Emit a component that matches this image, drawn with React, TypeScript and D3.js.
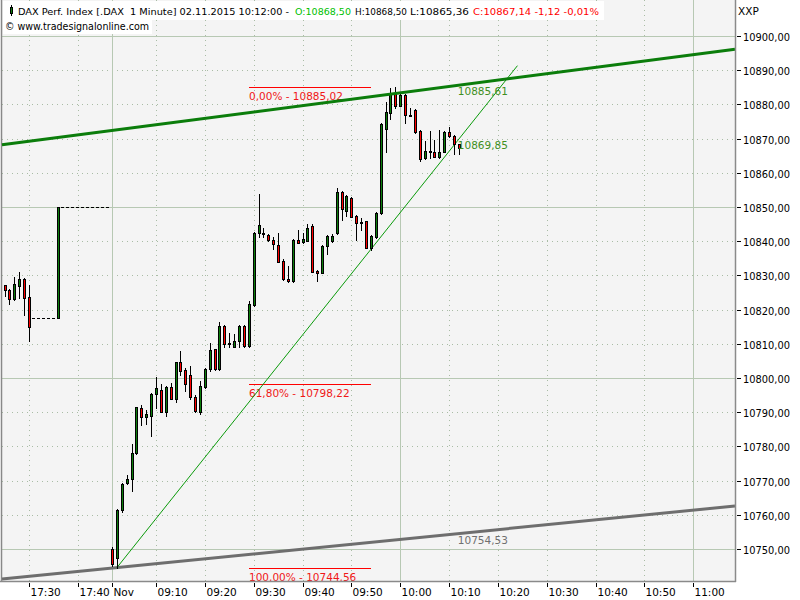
import React from "react";
import * as d3 from "d3";

// ---------- DATA ----------
const prevTimes = ["17:25", "17:26", "17:27", "17:28", "17:29", "17:30", "17:36"];
const prevOpen = [10827.1, 10825.7, 10823.0, 10827.0, 10828.9, 10823.6, 10817.5];
const prevHigh = [10827.3, 10826.0, 10829.4, 10831.0, 10829.2, 10827.2, 10850.1];
const prevLow = [10824.1, 10821.5, 10822.8, 10823.3, 10818.5, 10810.8, 10817.4];
const prevClose = [10825.7, 10823.0, 10827.4, 10828.9, 10823.5, 10814.8, 10850.0];

const dayOpen = [
  10749.9, 10747.3, 10761.5, 10769.4, 10770.4, 10778.0, 10791.3, 10788.7, 10789.0, 10795.2,
  10796.5, 10790.2, 10797.3, 10793.9, 10804.6, 10802.3, 10800.9, 10794.5, 10790.2, 10797.5,
  10802.5, 10808.4, 10802.5, 10815.3, 10809.8, 10809.2, 10810.8, 10815.2, 10809.4, 10821.3,
  10842.3, 10842.1, 10841.8, 10840.4, 10838.9, 10834.3, 10828.9, 10828.3, 10840.4, 10839.8,
  10840.1, 10844.4, 10831.4, 10830.8, 10838.6, 10840.0, 10842.3, 10854.4, 10848.9, 10852.6,
  10847.4, 10845.6, 10845.8, 10838.1, 10841.3, 10848.2, 10872.8, 10877.4, 10883.2, 10879.6,
  10882.7, 10877.0, 10878.4, 10872.2, 10864.4, 10866.4, 10866.2, 10864.7, 10866.2, 10872.0,
  10870.8, 10868.5,
];
const dayHigh = [
  10750.5, 10761.6, 10769.3, 10771.6, 10780.7, 10791.6, 10792.0, 10790.6, 10795.6, 10800.4,
  10798.2, 10797.7, 10798.6, 10804.8, 10807.9, 10802.8, 10803.5, 10795.0, 10799.0, 10803.0,
  10810.1, 10808.6, 10816.5, 10815.5, 10813.1, 10812.9, 10815.6, 10815.5, 10822.6, 10842.7,
  10853.8, 10843.8, 10842.0, 10841.1, 10842.5, 10834.8, 10832.7, 10840.6, 10843.3, 10842.3,
  10845.0, 10845.0, 10831.5, 10838.8, 10841.7, 10842.1, 10855.6, 10854.8, 10853.4, 10853.0,
  10847.7, 10846.7, 10846.0, 10841.7, 10848.6, 10874.5, 10880.6, 10884.8, 10885.02, 10883.0,
  10883.0, 10879.0, 10878.6, 10872.4, 10869.4, 10872.2, 10869.6, 10872.5, 10872.3, 10873.5,
  10871.0, 10868.5,
];
const dayLow = [
  10745.0, 10744.56, 10760.8, 10769.0, 10767.0, 10777.8, 10786.3, 10786.5, 10783.0, 10791.1,
  10790.0, 10788.9, 10793.8, 10793.0, 10800.9, 10796.3, 10794.0, 10790.0, 10789.5, 10797.0,
  10802.0, 10802.3, 10802.3, 10809.2, 10809.2, 10809.0, 10809.2, 10809.0, 10809.0, 10821.0,
  10841.3, 10841.1, 10840.2, 10837.7, 10833.8, 10828.7, 10828.0, 10828.0, 10839.4, 10839.5,
  10840.0, 10831.0, 10828.5, 10830.6, 10836.3, 10839.8, 10842.1, 10846.2, 10847.4, 10847.0,
  10840.4, 10843.3, 10837.9, 10837.4, 10841.0, 10848.0, 10866.2, 10875.6, 10879.0, 10879.4,
  10874.6, 10876.5, 10871.6, 10863.5, 10863.9, 10864.4, 10864.5, 10864.3, 10866.0, 10870.6,
  10865.5, 10865.36,
];
const dayClose = [
  10745.5, 10761.4, 10769.0, 10770.5, 10778.0, 10791.4, 10788.5, 10789.4, 10795.3, 10797.0,
  10790.2, 10797.5, 10794.0, 10804.6, 10802.1, 10798.2, 10794.3, 10790.4, 10797.7, 10802.6,
  10808.2, 10802.5, 10815.2, 10809.9, 10810.1, 10810.8, 10815.3, 10809.4, 10821.6, 10842.5,
  10844.7, 10842.5, 10840.4, 10839.1, 10834.0, 10828.9, 10828.3, 10840.4, 10839.6, 10840.6,
  10843.9, 10831.1, 10830.8, 10838.6, 10841.5, 10841.5, 10854.4, 10849.5, 10853.2, 10847.2,
  10845.4, 10845.5, 10838.1, 10841.5, 10848.2, 10874.2, 10877.7, 10883.2, 10879.5, 10882.7,
  10876.9, 10876.7, 10871.8, 10863.9, 10866.4, 10866.2, 10864.7, 10866.2, 10872.0, 10870.8,
  10868.4, 10867.14,
];

const tickTimes = ["17:30", "17:40", "09:01", "09:10", "09:20", "09:30", "09:40", "09:50", "10:00", "10:10", "10:20", "10:30", "10:40", "10:50", "11:00"];
const tickLabels = ["17:30", "17:40", "Nov", "09:10", "09:20", "09:30", "09:40", "09:50", "10:00", "10:10", "10:20", "10:30", "10:40", "10:50", "11:00"];
const solidTimes = ["09:01", "10:00", "11:00"];
const priceTicks = [10750, 10760, 10770, 10780, 10790, 10800, 10810, 10820, 10830, 10840, 10850, 10860, 10870, 10880, 10890, 10900];

// trend lines: [time, value] anchors
const channelTop = [["17:25", 10868.3], ["10:12", 10885.61]];
const channelBottom = [["17:25", 10741.3], ["10:12", 10754.53]];
const trendLine = [["09:02", 10744.56], ["10:12", 10869.85]];
const trendEnd = "10:24";
const lineLabels = ["10885,61", "10869,85", "10754,53"];

const fibLevels = [10885.02, 10798.22, 10744.56];
const fibLabels = ["0,00% - 10885,02", "61,80% - 10798,22", "100,00% - 10744,56"];
const fibRange = ["09:29", "09:54"];

const headerParts = [
  "DAX Perf. Index [.DAX  1 Minute] 02.11.2015 10:12:00 -",
  "O:10868,50",
  "H:10868,50",
  "L:10865,36",
  "C:10867,14 -1,12 -0,01%",
];

// ---------- HELPERS ----------
const pad = (n: number) => String(n).padStart(2, "0");
const slots: string[] = [];
for (let m = 17 * 60 + 25; m <= 17 * 60 + 46; m++) slots.push(`${pad(Math.floor(m / 60))}:${pad(m % 60)}`);
for (let m = 9 * 60 + 1; m <= 11 * 60 + 15; m++) slots.push(`${pad(Math.floor(m / 60))}:${pad(m % 60)}`);
const idx = (t: string) => slots.indexOf(t);

const PL = 2, PR = 735, PT = 0, PB = 581;
const x = d3.scaleLinear().domain([5, 141]).range([29, 693.3]);
const y = d3.scaleLinear().domain([10750, 10900]).range([549, 36]);

const FONT = "'DejaVu Sans', Verdana, sans-serif";
const GREEN = "#0b7d0b";
const RED = "#ff0000";

type Bar = { i: number; o: number; h: number; l: number; c: number };
const bars: Bar[] = [
  ...prevTimes.map((t, k) => ({ i: idx(t), o: prevOpen[k], h: prevHigh[k], l: prevLow[k], c: prevClose[k] })),
  ...dayOpen.map((o, k) => ({ i: idx("09:01") + k, o, h: dayHigh[k], l: dayLow[k], c: dayClose[k] })),
];

function lineFn(a: (string | number)[][]) {
  const i0 = idx(a[0][0] as string), i1 = idx(a[1][0] as string);
  const v0 = a[0][1] as number, v1 = a[1][1] as number;
  return (i: number) => v0 + ((v1 - v0) * (i - i0)) / (i1 - i0);
}

function Candle({ b }: { b: Bar }) {
  const cx = Math.round(x(b.i));
  const top = Math.round(y(Math.max(b.o, b.c)));
  const bot = Math.max(Math.round(y(Math.min(b.o, b.c))), top + 1);
  const hy = Math.round(y(b.h));
  const ly = Math.round(y(b.l));
  const up = b.c >= b.o;
  return (
    <g>
      <line x1={cx + 0.5} x2={cx + 0.5} y1={hy} y2={ly + 1} stroke="#000" strokeWidth={1} />
      <rect x={cx - 0.5} y={top + 0.5} width={2} height={bot - top} fill={up ? GREEN : RED} stroke="#000" strokeWidth={1} />
    </g>
  );
}

const headerX = [18, 295, 355, 410, 473];
const headerW = [271, 56, 52, 59, 126];
const headerC = ["#000", "#00c000", "#000", "#000", RED];

export default function App() {
  const iL = x.invert(PL), iR = x.invert(PR);
  const top = lineFn(channelTop), bot = lineFn(channelBottom), tr = lineFn(trendLine);
  const i93 = idx("10:12");
  const iT0 = idx(trendLine[0][0] as string), iTE = idx(trendEnd);
  const f0 = Math.round(x(idx(fibRange[0]))), f1 = Math.round(x(idx(fibRange[1])));

  const b5 = bars[5], b11 = bars[6];
  return (
    <svg width={800} height={600} style={{ position: "absolute", left: 0, top: 0, background: "#fff" }} fontFamily={FONT}>
      <rect x={0} y={0} width={800} height={600} fill="#fff" />
      <rect x={PL} y={PT} width={PR - PL} height={PB - PT} fill="#f4f4f4" />
      {priceTicks.map((v) => {
        const yy = Math.round(y(v)) + 0.5;
        const solid = v % 50 === 0;
        return (
          <line key={v} x1={PL} x2={PR} y1={yy} y2={yy} stroke={solid ? "#b7c8b3" : "#a9bca5"} strokeWidth={1} strokeDasharray={solid ? undefined : "1,4"} />
        );
      })}
      {tickTimes.map((t) => {
        const xx = Math.round(x(idx(t))) + 0.5;
        const solid = solidTimes.includes(t);
        return (
          <line key={t} x1={xx} x2={xx} y1={PT} y2={PB} stroke={solid ? "#b7c8b3" : "#a9bca5"} strokeWidth={1} strokeDasharray={solid ? undefined : "1,4"} />
        );
      })}
      <rect x={3} y={1} width={601} height={19} fill="#fff" />
      <rect x={3} y={20} width={149} height={14} fill="#fff" />
      <line x1={PL - 0.5} x2={PL - 0.5} y1={0} y2={PB} stroke="#888" strokeWidth={1.5} />

      {fibLevels.map((v, k) => {
        const yy = Math.round(y(v)) + 0.5;
        return (
          <g key={v}>
            <line x1={f0} x2={f1} y1={yy} y2={yy} stroke={RED} strokeWidth={1} />
            <text x={f0} y={yy + 12} fontSize={10.5} fill="#f01818">{fibLabels[k]}</text>
          </g>
        );
      })}

      <line x1={PL} x2={PR} y1={y(bot(iL))} y2={y(bot(iR))} stroke="#6e6e6e" strokeWidth={3} />
      <line x1={x(iT0)} x2={x(iTE)} y1={y(tr(iT0))} y2={y(tr(iTE))} stroke="#0a9a0a" strokeWidth={1} />

      <line x1={Math.round(x(b5.i)) + 3} x2={Math.round(x(b11.i)) - 1} y1={Math.round(y(b11.o)) + 0.5} y2={Math.round(y(b11.o)) + 0.5} stroke="#000" strokeDasharray="3,2" />
      <line x1={Math.round(x(b11.i)) + 3} x2={Math.round(x(idx("09:01"))) - 3} y1={Math.round(y(b11.c)) + 0.5} y2={Math.round(y(b11.c)) + 0.5} stroke="#000" strokeDasharray="3,2" />

      {bars.map((b) => (
        <Candle key={b.i} b={b} />
      ))}
      <line x1={PL} x2={PR} y1={y(top(iL))} y2={y(top(iR))} stroke={GREEN} strokeWidth={3} />

      <text x={x(i93) - 1} y={y(top(i93)) + 10} fontSize={10.5} fill="#3f8f1f">{lineLabels[0]}</text>
      <text x={x(i93) - 1} y={y(tr(i93)) + 10} fontSize={10.5} fill="#3f8f1f">{lineLabels[1]}</text>
      <text x={x(i93) - 1} y={y(bot(i93)) + 10} fontSize={10.5} fill="#707070">{lineLabels[2]}</text>

      <line x1={PR + 0.5} x2={PR + 0.5} y1={0} y2={PB + 1} stroke="#8a8a8a" strokeWidth={1.5} />
      <line x1={0} x2={PR + 1} y1={PB + 0.5} y2={PB + 0.5} stroke="#8a8a8a" strokeWidth={1.5} />
      {priceTicks.map((v) => {
        const yy = Math.round(y(v)) + 0.5;
        return (
          <g key={v}>
            <line x1={PR + 2} x2={PR + 6} y1={yy} y2={yy} stroke="#000" />
            <text x={PR + 8} y={yy + 4} fontSize={10.5} fill="#000" textLength={47} lengthAdjust="spacingAndGlyphs">{d3.format(".2f")(v).replace(".", ",")}</text>
          </g>
        );
      })}
      {tickTimes.map((t, k) => {
        const xx = Math.round(x(idx(t))) + 0.5;
        return (
          <g key={t}>
            <line x1={xx} x2={xx} y1={PB + 2} y2={PB + 6} stroke="#000" />
            <text x={xx + 1} y={596} fontSize={10.5} fill="#000">{tickLabels[k]}</text>
          </g>
        );
      })}
      <text x={738} y={15} fontSize={10.5} fill="#000">XXP</text>

      <line x1={11.5} x2={11.5} y1={5} y2={16} stroke="#000" />
      <rect x={10.5} y={7.5} width={2} height={6} fill={GREEN} stroke="#000" />
      {headerParts.map((s, k) => (
        <text key={k} x={headerX[k]} y={15} fontSize={9.5} fill={headerC[k]} textLength={headerW[k]} lengthAdjust="spacingAndGlyphs" style={{ whiteSpace: "pre" }}>
          {s}
        </text>
      ))}
      <text x={5} y={30} fontSize={10.5} fill="#000" textLength={144} lengthAdjust="spacingAndGlyphs">© www.tradesignalonline.com</text>
    </svg>
  );
}
